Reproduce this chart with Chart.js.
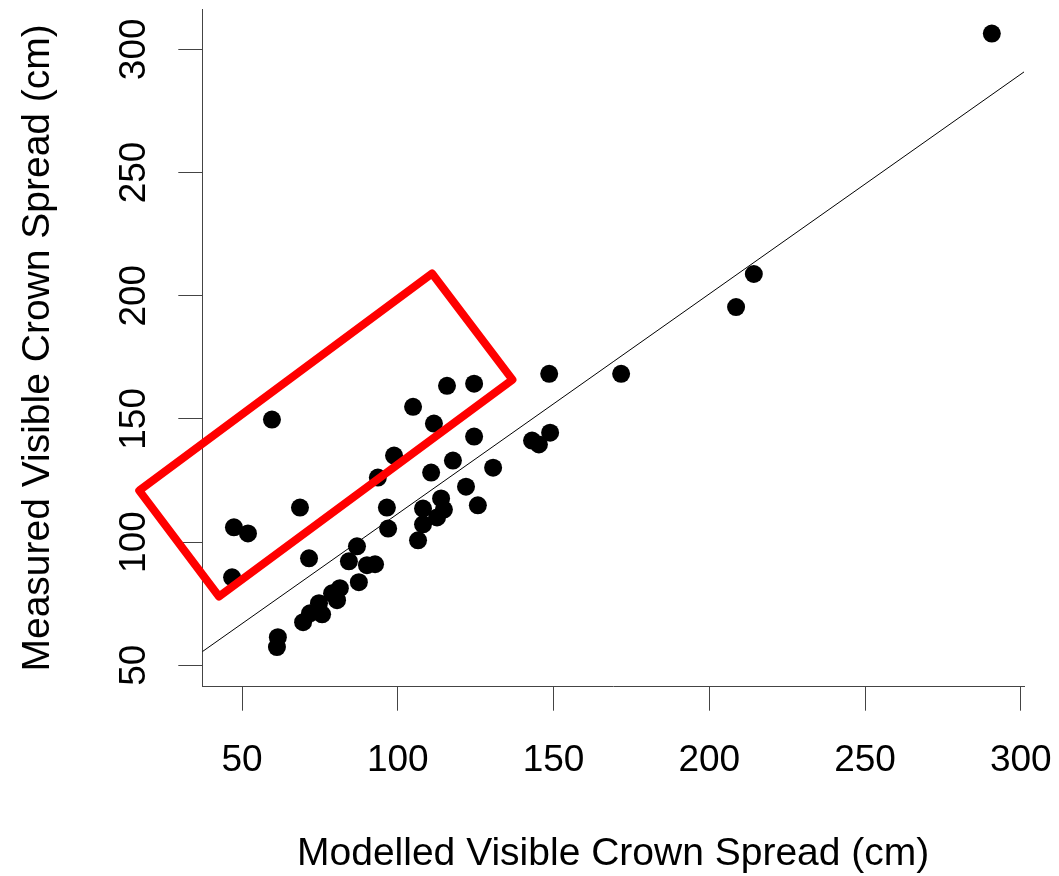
<!DOCTYPE html>
<html lang="en">
<head>
<meta charset="UTF-8">
<title>Modelled vs measured visible crown spread</title>
<script src="https://cdn.jsdelivr.net/npm/chart.js"></script>
<style>
  html, body { margin: 0; padding: 0; background: #fff; }
  #wrap { width: 1059px; height: 876px; }
</style>
</head>
<body>
<div id="wrap"><canvas id="myChart" width="1059" height="876"></canvas></div>
<script>
// modelled (x) and measured (y) crown spread, cm
const modelled = [46.8, 47.4, 51.9, 59.6, 68.6, 71.5, 93.6, 98.8, 104.9, 111.6, 115.8, 124.5, 124.5,
  96.5, 96.9, 108.1, 113.9, 114.8, 112.6, 108.1, 106.5, 117.7, 110.7, 121.9, 130.6, 125.7,
  86.9, 84.3, 90.1, 92.7, 87.5, 81.4, 78.9, 80.5, 74.7, 75.7, 71.8, 69.6, 61.5, 61.2,
  143.1, 145.3, 148.9, 148.6, 171.7, 208.6, 214.3, 290.7];
const measured = [85.7, 106.0, 103.5, 149.7, 114.0, 93.4, 126.2, 135.1, 154.9, 148.1, 163.4, 164.3, 142.8,
  114.0, 105.5, 113.6, 117.7, 113.2, 110.0, 107.2, 100.7, 133.1, 128.2, 122.5, 130.2, 114.9,
  98.3, 92.2, 90.6, 91.0, 83.7, 81.3, 79.2, 76.4, 75.2, 70.7, 71.1, 67.5, 61.4, 57.4,
  141.2, 139.6, 144.4, 168.3, 168.3, 195.4, 208.8, 306.4];

// fitted line y = a + b*x
const fitIntercept = 22.3;
const fitSlope = 0.892;

// red highlight box corners (data units)
const boxX = [17.0, 111.0, 136.8, 42.6];
const boxY = [120.9, 209.0, 165.9, 77.9];

const xTicks = [50, 100, 150, 200, 250, 300];
const yTicks = [50, 100, 150, 200, 250, 300];
const xRange = [37.24, 301.03];
const yRange = [41.30, 316.36];

const FONT = "'Liberation Sans', Arial, sans-serif";
const AXIS = '#444';

const points = modelled.map((x, i) => ({ x: x, y: measured[i] }));
const fitPoints = xRange.map(x => ({ x: x, y: fitIntercept + fitSlope * x }));
// close the box and run one segment further so the first corner is joined too
const boxPoints = [0, 1, 2, 3, 0, 1].map(i => ({ x: boxX[i], y: boxY[i] }));

const ctx = document.getElementById('myChart').getContext('2d');
new Chart(ctx, {
  type: 'scatter',
  data: {
    datasets: [
      {
        data: points,
        backgroundColor: '#000',
        borderWidth: 0,
        pointRadius: 9,
        pointHoverRadius: 9,
        order: 2
      },
      {
        data: fitPoints,
        showLine: true,
        borderColor: '#000',
        borderWidth: 1,
        pointRadius: 0,
        order: 1
      },
      {
        data: boxPoints,
        showLine: true,
        borderColor: '#ff0000',
        borderWidth: 8,
        borderJoinStyle: 'round',
        pointRadius: 0,
        clip: false,
        order: 0
      }
    ]
  },
  options: {
    responsive: false,
    animation: false,
    events: [],
    layout: { padding: { left: 0, top: 7, right: 35, bottom: 0 } },
    plugins: { legend: { display: false }, tooltip: { enabled: false } },
    scales: {
      x: {
        type: 'linear',
        min: xRange[0],
        max: xRange[1],
        afterBuildTicks: s => { s.ticks = xTicks.map(v => ({ value: v })); },
        afterFit: s => { s.height = 189.3; s.paddingLeft = 0; s.paddingRight = 0; },
        grid: { drawOnChartArea: false, drawTicks: true, tickLength: 24, color: AXIS, lineWidth: 1 },
        border: { display: true, color: AXIS, width: 1 },
        ticks: {
          autoSkip: false, maxRotation: 0, padding: 27.6, color: '#000',
          font: { family: FONT, size: 37 }
        },
        title: {
          display: true, text: 'Modelled Visible Crown Spread (cm)', color: '#000',
          font: { family: FONT, size: 39, lineHeight: 1.1 }, padding: { top: 0, bottom: 0 }
        }
      },
      y: {
        type: 'linear',
        min: yRange[0],
        max: yRange[1],
        afterBuildTicks: s => { s.ticks = yTicks.map(v => ({ value: v })); },
        afterFit: s => { s.width = 202.3; s.paddingTop = 0; s.paddingBottom = 0; },
        grid: { drawOnChartArea: false, drawTicks: true, tickLength: 24, color: AXIS, lineWidth: 1 },
        border: { display: true, color: AXIS, width: 1 },
        ticks: {
          autoSkip: false, minRotation: 90, maxRotation: 90, crossAlign: 'center', padding: 13,
          color: '#000', font: { family: FONT, size: 37 }
        },
        title: {
          display: true, text: 'Measured Visible Crown Spread (cm)', color: '#000',
          font: { family: FONT, size: 39, lineHeight: 1.1 }, padding: { top: 17, bottom: 0 }
        }
      }
    }
  }
});
</script>
</body>
</html>
